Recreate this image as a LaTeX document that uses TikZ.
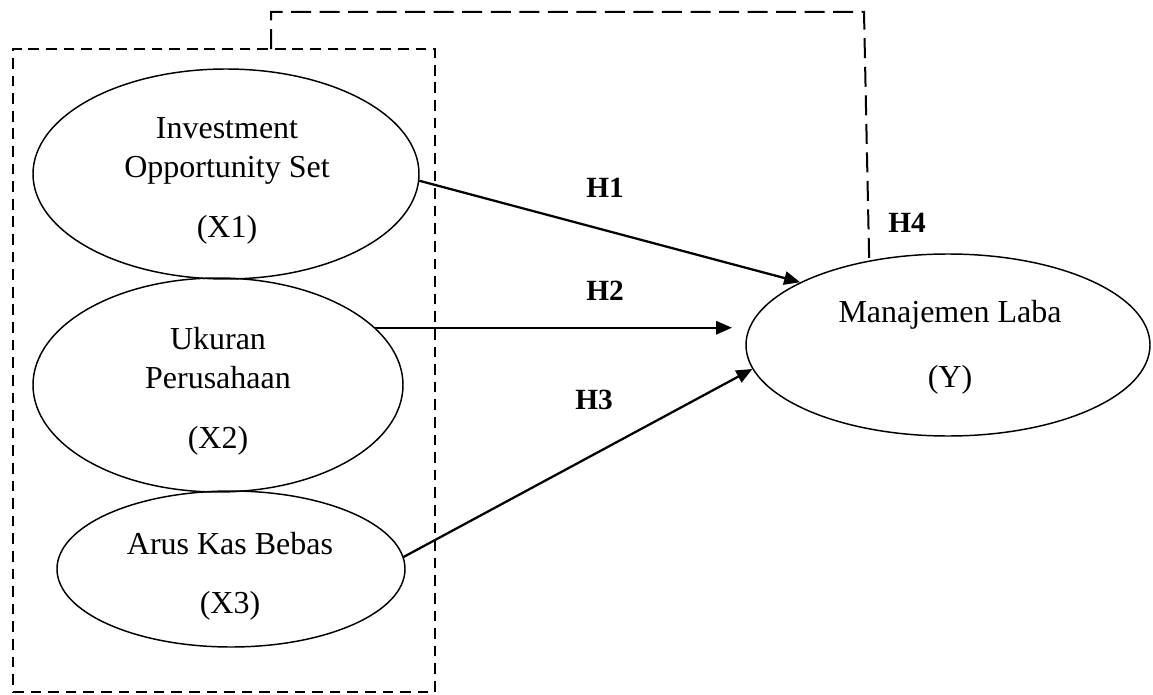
\documentclass[tikz,border=0pt]{standalone}
\usepackage{fontspec}
\setmainfont{Liberation Serif}
\usetikzlibrary{arrows.meta,shapes.geometric}
\begin{document}
\begin{tikzpicture}[x=0.375pt, y=-0.375pt,
    var/.style={ellipse, draw, line width=0.55pt, inner sep=0pt},
    vartext/.style={anchor=north, inner sep=0pt, align=center,
        font=\fontsize{12}{14.6}\selectfont},
    hyp/.style={-{Triangle[length=6pt,width=5pt]}, line width=0.85pt},
    hlabel/.style={font=\fontsize{11}{13}\selectfont\bfseries},
    boxdash/.style={draw, line width=0.75pt, dash pattern=on 4pt off 2.6pt},
    linkdash/.style={line width=0.75pt, dash pattern=on 7.5pt off 3.2pt}]
    \useasboundingbox (0,0) rectangle (1153,695);

    % dashed group round the independent variables
    \node[boxdash, inner sep=0pt, outer sep=0pt, minimum width=158.25pt,
        minimum height=241.1pt] (grp) at (224,370.5) {};

    % variables
    \node[var, minimum width=144.75pt, minimum height=78.75pt] (x1) at (226,174) {};
    \node[var, minimum width=138.75pt, minimum height=80.25pt] (x2) at (218,385) {};
    \node[var, minimum width=130.5pt, minimum height=58.5pt] (x3) at (231,569) {};
    \node[var, minimum width=151.5pt, minimum height=68.25pt] (y) at (948,345) {};

    \node[vartext] (x1txt) at (227,117) {Investment\\Opportunity Set\\[8pt](X1)};
    \node[vartext] (x2txt) at (218,327) {Ukuran\\Perusahaan\\[8pt](X2)};
    \node[vartext] (x3txt) at (230,532) {Arus Kas Bebas\\[7.5pt](X3)};
    \node[vartext] (ytxt) at (950,300) {Manajemen Laba\\[9.5pt](Y)};

    % hypotheses
    \coordinate (h2end) at (732,327);
    \coordinate (h4top) at (271,12);
    \coordinate (h4corner) at (864,12);

    \draw[hyp] (x1.-2.5) -- (y.157);
    \draw[hyp] (x2.20) -- (x2.20 -| h2end);
    \draw[hyp] (x3.4) -- (y.187);
    \draw[linkdash] (grp.north -| h4top) -- (h4top) -- (h4corner) -- (y.133.6);

    \node[hlabel] (h1) at (605,188) {H1};
    \node[hlabel] (h2) at (605,290.5) {H2};
    \node[hlabel] (h3) at (594,400) {H3};
    \node[hlabel] (h4) at (907,223) {H4};
\end{tikzpicture}
\end{document}
